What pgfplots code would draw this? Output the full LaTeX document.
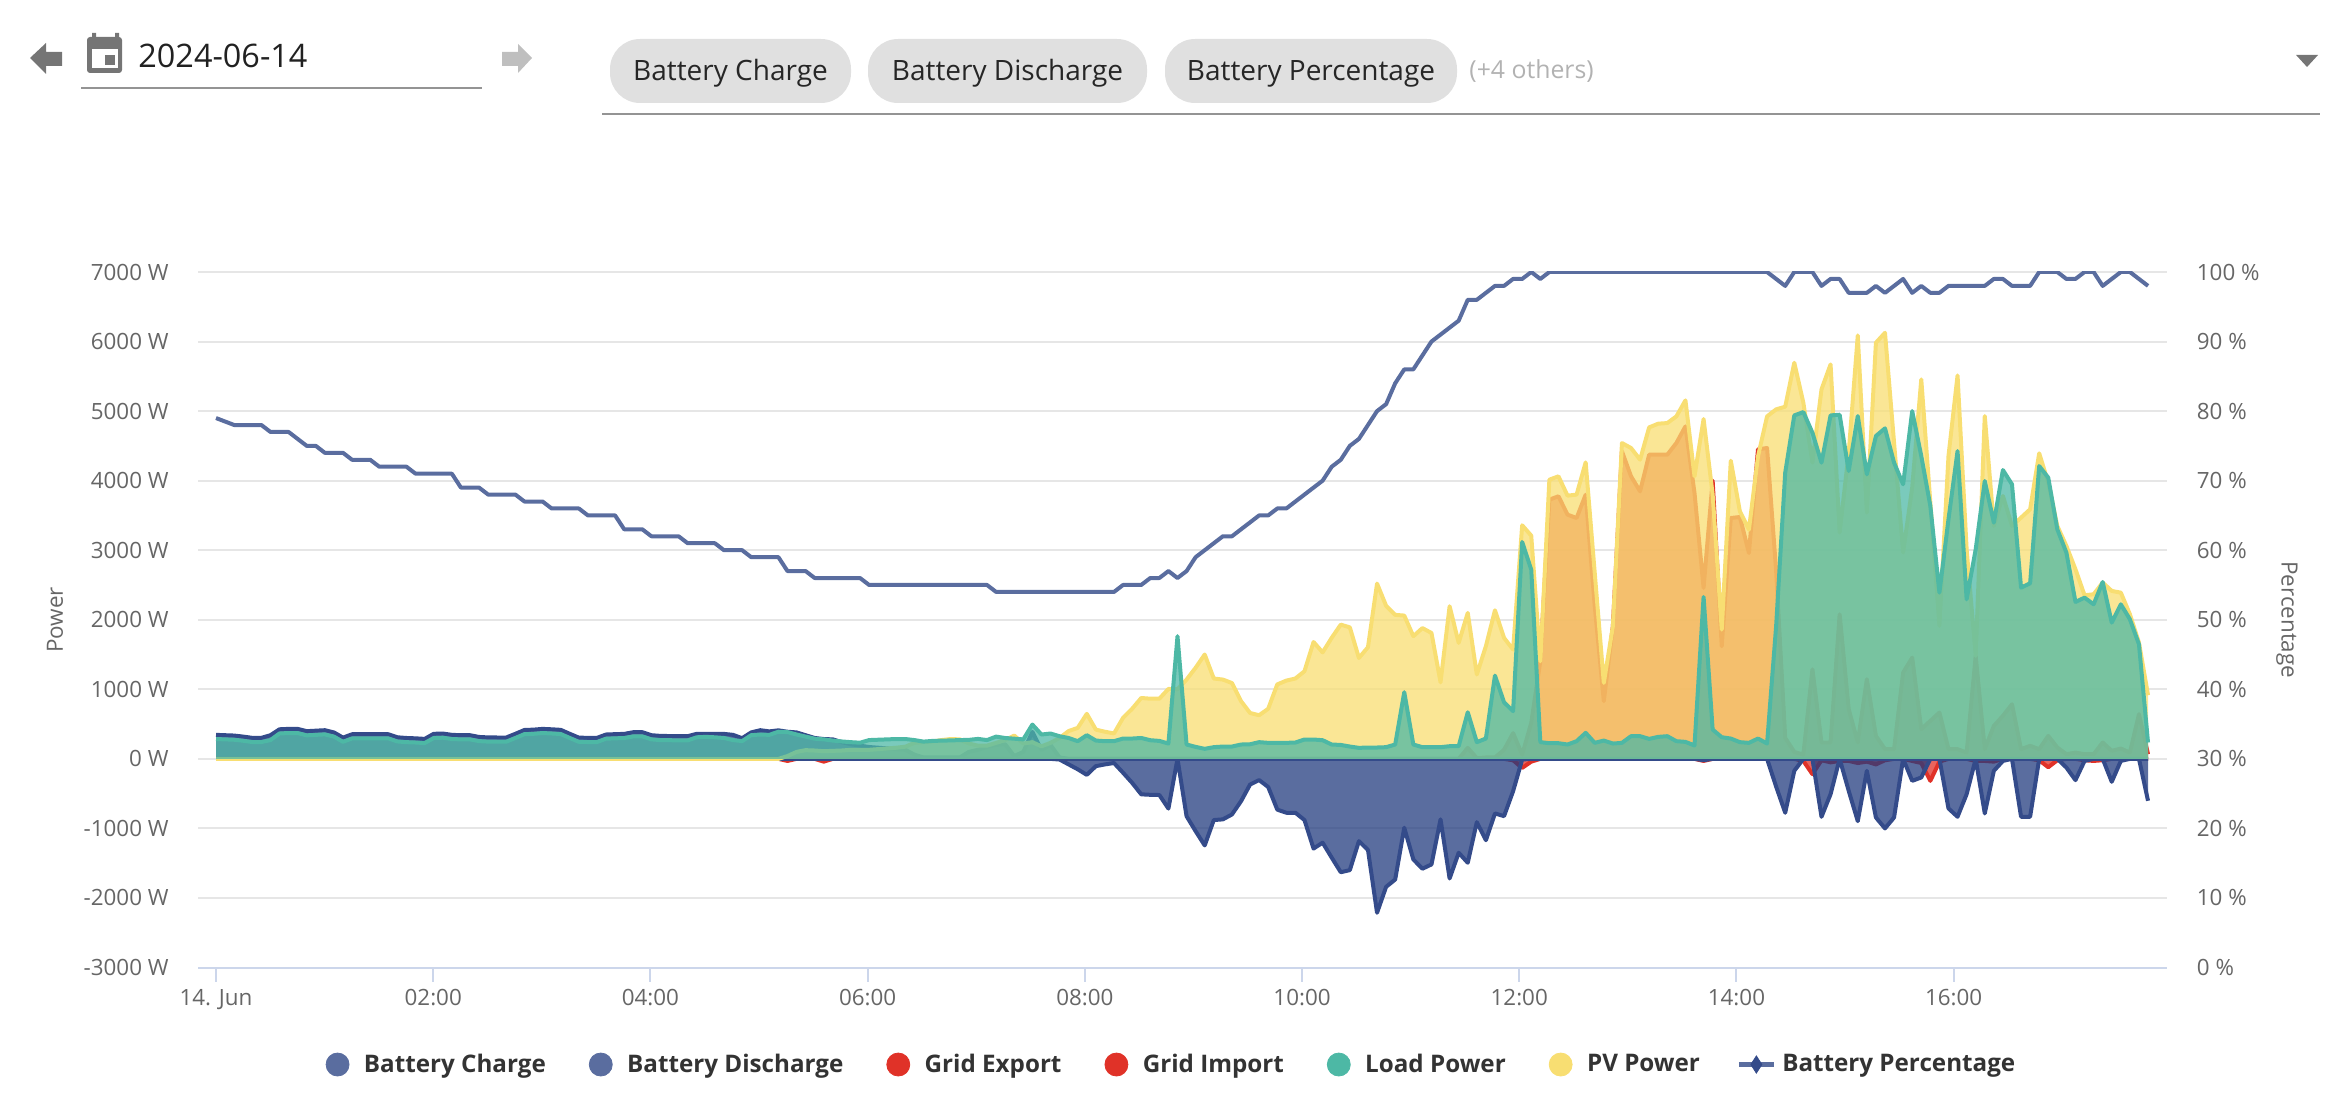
\documentclass[border=0pt]{standalone}
\usepackage{fontspec}
\setmainfont{Open Sans}
\usepackage{pgfplots}
\usepackage{pgfplotstable}
\pgfplotsset{compat=1.18}

\definecolor{cred}{RGB}{224,50,40}
\definecolor{cteal}{RGB}{77,184,165}
\definecolor{cyel}{RGB}{248,222,114}
\definecolor{cbluefill}{RGB}{35,60,127}
\definecolor{cblueline}{RGB}{52,75,138}
\definecolor{cpct}{RGB}{90,109,159}
\definecolor{cgrid}{RGB}{230,230,230}
\definecolor{ctick}{RGB}{204,214,235}
\definecolor{clabel}{RGB}{102,102,102}
\definecolor{cchip}{RGB}{224,224,224}
\definecolor{cicon}{RGB}{117,117,117}

% one row per sample, about 5 minutes apart
\pgfplotstableread{
i chg dis exp imp load pv pct
0 0 345 0 0 285 0 79
1 0 340 0 0 280 0 78.5
2 0 335 0 0 275 0 78
3 0 320 0 0 260 0 78
4 0 302 0 0 242 0 78
5 0 302 0 0 242 0 78
6 0 340 0 0 270 0 77
7 0 425 0 0 365 0 77
8 0 431 0 0 371 0 77
9 0 431 0 0 371 0 76
10 0 398 0 0 338 0 75
11 0 405 0 0 345 0 75
12 0 412 0 0 352 0 74
13 0 380 0 0 320 0 74
14 0 305 0 0 245 0 74
15 0 354 0 0 294 0 73
16 0 354 0 0 294 0 73
17 0 354 0 0 294 0 73
18 0 354 0 0 294 0 72
19 0 354 0 0 294 0 72
20 0 310 0 0 250 0 72
21 0 300 0 0 240 0 72
22 0 295 0 0 235 0 71
23 0 287 0 0 227 0 71
24 0 360 0 0 300 0 71
25 0 364 0 0 304 0 71
26 0 345 0 0 285 0 71
27 0 340 0 0 280 0 69
28 0 340 0 0 280 0 69
29 0 315 0 0 255 0 69
30 0 308 0 0 248 0 68
31 0 307 0 0 247 0 68
32 0 307 0 0 247 0 68
33 0 360 0 0 300 0 68
34 0 415 0 0 355 0 67
35 0 420 0 0 360 0 67
36 0 431 0 0 371 0 67
37 0 425 0 0 365 0 66
38 0 417 0 0 357 0 66
39 0 360 0 0 300 0 66
40 0 305 0 0 245 0 66
41 0 302 0 0 242 0 65
42 0 302 0 0 242 0 65
43 0 350 0 0 290 0 65
44 0 355 0 0 295 0 65
45 0 359 0 0 299 0 63
46 0 383 0 0 323 0 63
47 0 383 0 0 323 0 63
48 0 340 0 0 280 0 62
49 0 330 0 0 270 0 62
50 0 328 0 0 268 0 62
51 0 326 0 0 266 0 62
52 0 326 0 0 266 0 61
53 0 360 0 0 310 0 61
54 0 359 0 0 316 0 61
55 0 359 0 0 310 0 61
56 0 359 0 0 300 0 60
57 0 345 0 0 270 0 60
58 0 297 0 0 255 0 60
59 0 380 0 0 340 0 59
60 0 412 0 0 350 0 59
61 0 395 0 0 345 0 59
62 0 410 0 0 390 0 59
63 0 390 0 -30 385 40 57
64 0 380 0 0 350 100 57
65 0 340 0 0 320 125 57
66 0 300 0 0 290 120 56
67 0 285 0 -40 280 110 56
68 0 280 0 0 263 115 56
69 0 240 0 0 250 120 56
70 0 210 0 0 240 130 56
71 0 190 0 0 232 130 56
72 0 170 0 0 270 130 55
73 0 160 0 0 275 140 55
74 0 150 0 0 280 150 55
75 0 140 0 0 285 160 55
76 0 130 0 0 285 175 55
77 0 60 0 0 270 230 55
78 0 20 0 0 248 240 55
79 0 20 0 0 258 250 55
80 0 20 0 0 262 270 55
81 0 20 0 0 265 285 55
82 0 20 0 0 270 280 55
83 0 100 0 0 273 220 55
84 0 130 0 0 287 190 55
85 0 170 0 0 270 190 55
86 0 200 0 0 320 230 54
87 0 210 0 0 300 270 54
88 0 40 0 0 290 335 54
89 0 100 0 0 280 220 54
90 0 388 0 0 493 240 54
91 0 130 0 0 350 180 54
92 0 200 0 0 364 230 54
93 -10 20 0 0 325 300 54
94 -80 0 0 0 300 400 54
95 -150 0 0 0 254 445 54
96 -230 0 0 0 340 647 54
97 -105 0 0 0 263 420 54
98 -80 0 0 0 254 390 54
99 -60 0 0 0 254 365 54
100 -200 0 0 0 292 590 55
101 -345 0 0 0 292 720 55
102 -510 0 0 0 300 875 55
103 -517 0 0 0 268 865 56
104 -520 0 0 0 258 865 56
105 -715 0 0 0 220 1005 57
106 0 0 0 0 1763 1000 56
107 -825 0 0 0 206 1140 57
108 -1040 0 0 0 172 1310 59
109 -1245 0 0 0 144 1500 60
110 -880 0 0 0 168 1155 61
111 -870 0 0 0 177 1140 62
112 -800 0 0 0 177 1090 62
113 -610 0 0 0 206 830 63
114 -370 0 0 0 210 660 64
115 -305 0 0 0 240 627 65
116 -405 0 0 0 230 720 65
117 -730 0 0 0 230 1070 66
118 -775 0 0 0 230 1125 66
119 -775 0 0 0 235 1155 67
120 -880 0 0 0 278 1260 68
121 -1290 0 0 0 278 1680 69
122 -1205 0 0 0 268 1530 70
123 -1420 0 0 0 206 1740 72
124 -1630 0 0 0 200 1930 73
125 -1600 0 0 0 177 1890 75
126 -1183 0 0 0 158 1450 76
127 -1310 0 0 0 163 1605 78
128 -2213 0 0 0 163 2520 80
129 -1840 0 0 0 168 2200 81
130 -1735 0 0 0 206 2070 84
131 -990 0 0 0 958 2060 86
132 -1446 0 0 0 206 1763 86
133 -1580 0 0 0 168 1880 88
134 -1518 0 0 0 168 1810 90
135 -870 0 0 0 168 1100 91
136 -1720 0 0 0 182 2194 92
137 -1350 0 0 0 182 1667 93
138 -1494 0 158 0 670 2098 96
139 -910 0 10 0 240 1212 96
140 -1170 0 20 0 292 1620 97
141 -785 0 20 0 1197 2136 98
142 -824 0 130 0 814 1739 98
143 -465 0 370 -20 685 1571 99
144 -10 0 60 -130 3118 3358 99
145 0 0 517 -40 2720 3209 100
146 0 0 1403 0 240 1403 99
147 0 0 3727 0 225 4014 100
148 0 0 3775 0 225 4062 100
149 0 0 3511 0 206 3784 100
150 0 0 3463 0 254 3799 100
151 0 0 3798 0 374 4263 100
152 0 0 2194 0 230 2673 100
153 0 0 829 0 263 1092 100
154 0 0 1906 0 220 1906 100
155 0 0 4421 0 230 4541 100
156 0 0 4062 0 326 4469 100
157 0 0 3846 0 326 4301 100
158 0 0 4373 0 287 4766 100
159 0 0 4373 0 316 4819 100
160 0 0 4373 0 326 4828 100
161 0 0 4541 0 254 4924 100
162 0 0 4780 0 244 5154 100
163 0 0 3822 0 192 4062 100
164 -20 0 2457 -30 2328 4886 100
165 0 0 4000 0 421 3800 100
166 0 0 1619 0 311 1859 100
167 0 0 3463 0 292 4287 100
168 0 0 3477 0 240 3559 100
169 0 0 2960 0 230 3296 100
170 0 0 4450 0 292 4350 100
171 0 0 4469 0 220 4924 100
172 -400 0 2700 0 1911 5025 99
173 -775 0 300 0 4115 5063 98
174 -172 0 100 0 4938 5695 100
175 0 0 60 -30 4986 5120 100
176 0 0 1288 -220 4689 4258 100
177 -833 0 235 -20 4258 5312 98
178 -508 0 235 -50 4938 5671 99
179 0 0 2079 -30 4948 3252 99
180 -460 0 714 -30 4139 4400 97
181 -896 0 235 -60 4929 6088 97
182 -172 0 1145 -40 4091 3540 97
183 -843 0 330 -80 4642 5983 98
184 -1000 0 139 -20 4752 6126 97
185 -843 0 139 0 4258 4546 98
186 0 0 1240 0 3947 2965 99
187 -316 0 1456 -30 5000 3900 97
188 -268 0 426 -60 4354 5456 98
189 0 0 546 -316 3636 3684 97
190 0 0 666 -40 2390 1911 97
191 -713 0 139 0 3444 4354 98
192 -833 0 139 0 4426 5513 98
193 -508 0 90 0 2294 3013 98
194 0 0 1480 -30 3013 1480 98
195 -785 0 139 -30 3995 4929 98
196 -172 0 474 -40 3396 3348 99
197 -30 0 618 0 4153 3779 99
198 0 0 785 0 3947 3348 98
199 -833 0 139 0 2462 3468 98
200 -833 0 187 0 2524 3588 98
201 0 0 139 -20 4210 4393 100
202 0 0 330 -120 4043 3971 100
203 0 0 163 -20 3300 3348 100
204 -125 0 67 0 2965 3061 99
205 -306 0 90 0 2256 2725 99
206 -30 0 67 -20 2318 2352 100
207 0 0 67 -30 2222 2366 100
208 0 0 235 -20 2543 2534 98
209 -330 0 115 0 1959 2414 99
210 -30 0 148 0 2222 2390 100
211 0 0 90 0 2007 2079 100
212 0 0 642 0 1648 1672 99
213 -603 0 67 0 235 915 98
}\data

% fill down to zero, then the line on its own
\newcommand{\area}[3]{%
  \addplot[forget plot,draw=none,fill=#1,fill opacity=0.75]
    table[x expr=\thisrow{i}*0.08352,y=#3]{\data} \closedcycle;
  \addplot[forget plot,draw=#2,line width=2pt,line join=round,mark=none]
    table[x expr=\thisrow{i}*0.08352,y=#3]{\data};
}

\pgfplotsset{
  dot/.style={legend image code/.code={%
    \path (-5.75pt,0pt) (13pt,0pt);
    \fill[#1] (0pt,0pt) circle (5.75pt);}},
  both axes/.style={
    scale only axis,width=984.25pt,height=347.75pt,
    at={(99pt,70.75pt)},anchor=south west,
    xmin=-0.166,xmax=17.96,
    tick label style={font=\fontsize{11.2}{13}\selectfont,text=clabel},
    label style={font=\fontsize{11.2}{13}\selectfont,text=clabel},
    y axis line style={draw=none},
    y tick style={draw=none},
    yticklabel style={inner sep=0pt},
  },
}

\begin{document}
\begin{tikzpicture}
\useasboundingbox (0,0) rectangle (1163.5pt,554.5pt);

\begin{axis}[
  both axes,
  axis x line*=bottom,axis y line*=left,
  x axis line style={draw=ctick,line width=1pt,-},
  y axis line style={-},
  ymin=-3000,ymax=7000,
  ytick={-3000,-2000,...,7000},
  yticklabels={-3000 W,-2000 W,-1000 W,0 W,1000 W,2000 W,3000 W,4000 W,5000 W,6000 W,7000 W},
  xtick={0,2,...,16},
  xticklabels={14. Jun,02:00,04:00,06:00,08:00,10:00,12:00,14:00,16:00},
  x tick style={draw=ctick,line width=1pt},
  major tick length=7pt,
  tick align=outside,
  xticklabel style={yshift=-0.5pt},
  ymajorgrids,
  y grid style={draw=cgrid,line width=1pt},
  ylabel={Power},
  ylabel style={at={(axis description cs:-0.0726,0.5)},anchor=center},
  yticklabel style={xshift=-7.5pt},
  legend columns=7,
  legend cell align=left,
  legend style={
    draw=none,fill=none,
    at={(axis description cs:0.494,-0.1395)},anchor=center,
    font=\bfseries\fontsize{12.1}{14}\selectfont,
    text=black!80,
    nodes={inner xsep=0pt,inner ysep=1pt},
    /tikz/every even column/.append style={column sep=21.5pt},
  },
]
\area{cred}{cred}{exp}
\area{cred}{cred}{imp}
\area{cbluefill}{cblueline}{chg}
\area{cbluefill}{cblueline}{dis}
\area{cyel}{cyel}{pv}
\area{cteal}{cteal}{load}

\addlegendimage{dot=cpct}\addlegendentry{Battery Charge}
\addlegendimage{dot=cpct}\addlegendentry{Battery Discharge}
\addlegendimage{dot=cred}\addlegendentry{Grid Export}
\addlegendimage{dot=cred}\addlegendentry{Grid Import}
\addlegendimage{dot=cteal}\addlegendentry{Load Power}
\addlegendimage{dot=cyel}\addlegendentry{PV Power}
\addlegendimage{legend image code/.code={%
  \path (2.25pt,0pt) (21.5pt,0pt);
  \draw[overlay,cpct,line width=2.4pt] (0pt,0pt) -- (17.5pt,0pt);
  \fill[overlay,cblueline] (8.75pt,4.3pt) -- (11.5pt,0pt) -- (8.75pt,-4.3pt) -- (6pt,0pt) -- cycle;}}
\addlegendentry{Battery Percentage}
\end{axis}

\begin{axis}[
  both axes,
  axis x line=none,axis y line*=right,
  ymin=0,ymax=100,
  ytick={0,10,...,100},
  yticklabels={0 \%,10 \%,20 \%,30 \%,40 \%,50 \%,60 \%,70 \%,80 \%,90 \%,100 \%},
  yticklabel style={xshift=15pt},
  ylabel={Percentage},
  ylabel style={at={(axis description cs:1.0612,0.5)},anchor=center,rotate=180},
]
\addplot[draw=cpct,line width=2pt,line join=round,mark=none]
  table[x expr=\thisrow{i}*0.08352,y=pct]{\data};
\end{axis}

% page controls above the chart, in pixels from the top left
\begin{scope}[x=0.5pt,y=-0.5pt,yshift=554.5pt]
  \fill[cicon] (30,58) -- (46,43) -- (46,52) -- (62,52) -- (62,66) -- (46,66) -- (46,74) -- cycle;
  \fill[black!25] (532,58) -- (518,44) -- (518,52) -- (502,52) -- (502,66) -- (518,66) -- (518,73) -- cycle;
  \fill[cicon,rounded corners=1.5pt] (87,37) rectangle (122,73);
  \fill[cicon] (92,33) rectangle (96,38) (115,33) rectangle (119,38);
  \fill[white] (92,49) rectangle (118,68);
  \fill[cicon] (105,55) rectangle (115,65);
  \node[anchor=west,inner sep=0pt,text=black!87,font=\fontsize{16.2}{18}\selectfont] at (138,56) {2024-06-14};
  \draw[black!42,line width=1pt] (81,88) -- (481.5,88);

  \fill[cchip,rounded corners=15pt] (610,39) rectangle (851,103);
  \fill[cchip,rounded corners=15pt] (868,39) rectangle (1147,103);
  \fill[cchip,rounded corners=15pt] (1165,39) rectangle (1457,103);
  \node[inner sep=0pt,text=black!85,font=\fontsize{14}{16}\selectfont] at (730.5,73.5) {Battery Charge};
  \node[inner sep=0pt,text=black!85,font=\fontsize{14}{16}\selectfont] at (1007.5,73.5) {Battery Discharge};
  \node[inner sep=0pt,text=black!85,font=\fontsize{14}{16}\selectfont] at (1311,73.5) {Battery Percentage};
  \node[anchor=west,inner sep=0pt,text=black!30,font=\fontsize{12.4}{15}\selectfont] at (1469,71) {(+4 others)};
  \draw[black!42,line width=1pt] (602,114) -- (2320,114);
  \fill[cicon] (2296,55) -- (2318,55) -- (2307,67) -- cycle;
\end{scope}
\end{tikzpicture}
\end{document}
